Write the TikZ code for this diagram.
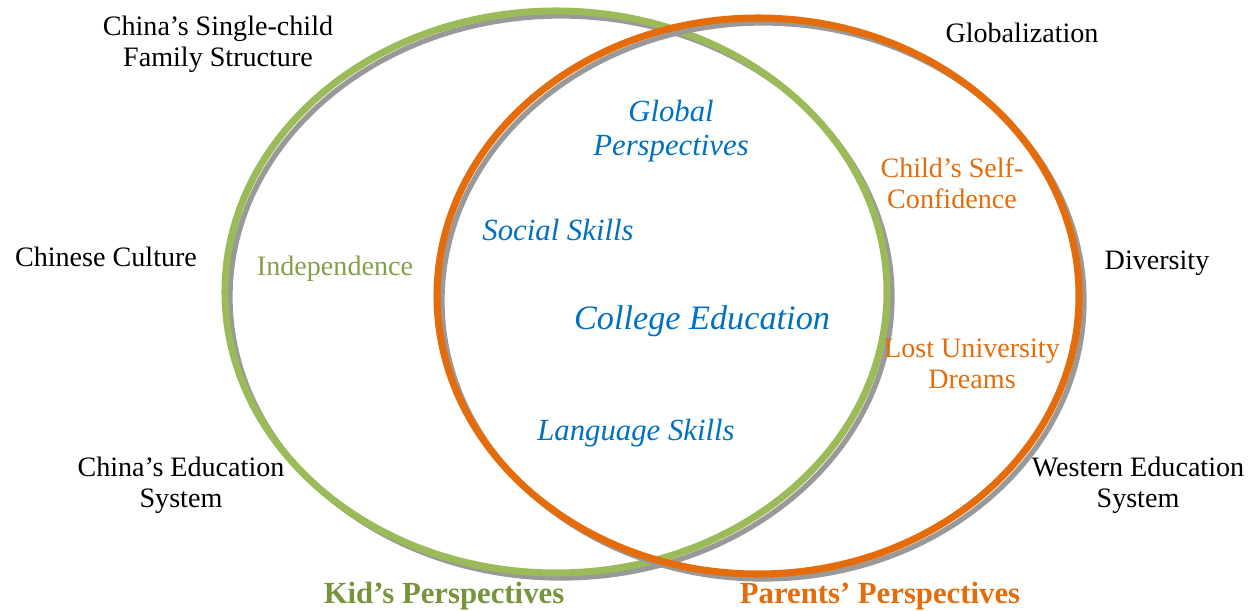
\documentclass[tikz,border=0pt]{standalone}
\usepackage{fontspec}
\setmainfont{Liberation Serif}
\definecolor{kidgreen}{HTML}{9BBB59}
\definecolor{kiddark}{HTML}{77933C}
\definecolor{parorange}{HTML}{E46C0A}
\definecolor{skillblue}{HTML}{0070C0}
\tikzset{
  ring/.style={line width=4pt},
  shade/.style={line width=3pt, gray!80},
  factor/.style={align=center, font=\fontsize{16}{17.6}\selectfont},
  skill/.style={align=center, text=skillblue, font=\fontsize{17.5}{19}\selectfont\itshape},
  title/.style={font=\fontsize{17.5}{20}\selectfont\bfseries}
}
\begin{document}
\begin{tikzpicture}[x=0.02cm,y=-0.02cm]
  \useasboundingbox (0,0) rectangle (1260,611);
  % the two rings
  \draw[shade] (561,297) ellipse (331 and 281);
  \draw[ring,kidgreen] (556,292) ellipse (331 and 281);
  \draw[shade] (763,301) ellipse (321 and 278);
  \draw[ring,parorange] (758,296) ellipse (321 and 278);
  % outside factors
  \node[factor] (family) at (218,44) {China’s Single-child\\Family Structure};
  \node[factor] (global) at (1022,33) {Globalization};
  \node[factor] (culture) at (106,257) {Chinese Culture};
  \node[factor] (diverse) at (1157,263) {Diversity};
  \node[factor] (chinaedu) at (181,485) {China’s Education\\System};
  \node[factor] (westedu) at (1138,485) {Western Education\\System};
  % kid side
  \node[factor,text=kidgreen!85!black] (indep) at (335,269) {Independence};
  % overlap
  \node[skill] (globper) at (671,131) {Global\\Perspectives};
  \node[skill] (social) at (558,230) {Social Skills};
  \node[skill,font=\fontsize{19.5}{21}\selectfont\itshape] (college) at (702,321) {College Education};
  \node[skill] (lang) at (636,433) {Language Skills};
  % parents side
  \node[factor,text=parorange] (confid) at (952,183) {Child’s Self-\\Confidence};
  \node[factor,text=parorange] (dreams) at (972,364) {Lost University\\Dreams};
  % titles
  \node[title,text=kiddark] (kid) at (444,596) {Kid’s Perspectives};
  \node[title,text=parorange] (parent) at (880,596) {Parents’ Perspectives};
\end{tikzpicture}
\end{document}
